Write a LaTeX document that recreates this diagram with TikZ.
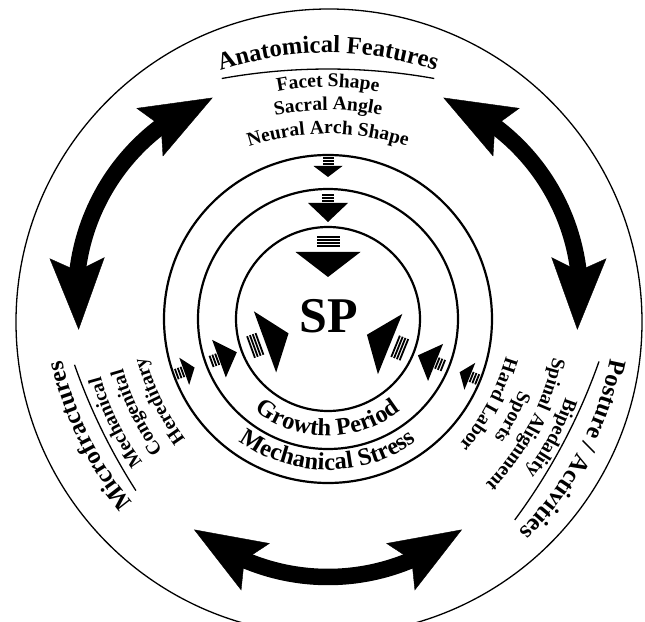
\documentclass[tikz,border=0pt]{standalone}
\usepackage{fontspec}
\setmainfont{Liberation Serif}
\usetikzlibrary{arrows.meta,bending,decorations.text}

\newcommand\itemfont{\bfseries\fontsize{19.5pt}{22pt}\selectfont}
\newcommand\titlefont{\bfseries\fontsize{24.6pt}{26pt}\selectfont}
\newcommand\ringfont{\bfseries\fontsize{24.5pt}{26pt}\selectfont}

% text on a flat arc: rotation, apex radius, arc radius, font, text
\newcommand\arclabel[5]{%
  \pgfmathsetmacro\myshift{#3-#2}%
  \begin{scope}[rotate=#1,shift={(0,-\myshift)}]
    \path[decorate,decoration={text along path,text align=center,text={|#4|#5}}]
      (150:#3pt) arc[start angle=150,end angle=30,radius=#3pt];
  \end{scope}}
% underline arc: rotation, apex radius, arc radius, half angle
\newcommand\arcline[4]{%
  \pgfmathsetmacro\myshift{#3-#2}%
  \begin{scope}[rotate=#1,shift={(0,-\myshift)}]
    \draw[uline] ({90+#4}:#3pt) arc[start angle={90+#4},end angle={90-#4},radius=#3pt];
  \end{scope}}
% text along the bottom of a ring: radius, font, text
\newcommand\botlabel[3]{%
  \path[decorate,decoration={text along path,text align=center,text={|#2|#3}}]
    (200:#1pt) arc[start angle=200,end angle=340,radius=#1pt];}
% striped arrow: angle, tip radius, height, width, bars, bar width, gap
\newcommand\stripearrow[7]{%
  \begin{scope}[rotate={#1-90}]
    \fill (0,#2) -- ({-#4/2},{#2+#3}) -- ({#4/2},{#2+#3}) -- cycle;
    \foreach \k in {1,...,#5}{\fill ({-#6/2},{#2+#3+#7+(\k-1)*3}) rectangle ++(#6,1.8);}
  \end{scope}}

\tikzset{
  bighead/.tip={Stealth[length=72pt,width=55pt,inset=13pt,line width=0.4pt,flex]},
  bigarrow/.style={line width=16.5pt,bighead-bighead},
  ring/.style={line width=2.2pt},
  outer/.style={line width=1.3pt},
  uline/.style={line width=1.3pt},
}

\begin{document}
\begin{tikzpicture}[x=1pt,y=1pt]
\useasboundingbox (-328,-302) rectangle (317,319);
\coordinate (c) at (0,0);
\draw[outer] (1,-3) circle[radius=313pt];
\draw[ring] (c) circle[radius=92pt];
\draw[ring] (c) circle[radius=130pt];
\draw[ring] (c) circle[radius=164pt];

% big curved double arrows
\foreach \ph/\nm in {150/nw,30/ne,270/bt}{
  \begin{scope}[shift={(\ph:45)}]
    \coordinate (\nm A) at ({\ph-39}:213);
    \draw[bigarrow] (\nm A) arc[start angle={\ph-39},end angle={\ph+39},radius=213pt];
  \end{scope}}

% striped arrows toward SP
\foreach \a in {90,200,338}{
  \stripearrow{\a}{42}{25}{65}{4}{23}{5}
  \stripearrow{\a}{97}{19}{40}{3}{12}{1}
  \stripearrow{\a}{142}{11}{29}{3}{11}{1}
}

\node[font=\bfseries\fontsize{50pt}{50pt}\selectfont] (sp) at (1,2.5) {SP};

% top group
\arclabel{0}{266}{330}{\titlefont}{Anatomical Features}
\arcline{0}{250}{600}{10.2}
\arclabel{0}{232}{255}{\itemfont}{Facet Shape}
\arclabel{0}{209}{255}{\itemfont}{Sacral Angle}
\arclabel{0}{185}{255}{\itemfont}{Neural Arch Shape}

% left group
\arclabel{116}{266}{330}{\titlefont}{Microfractures}
\arcline{116}{252}{600}{6.7}
\arclabel{116}{234}{255}{\itemfont}{Mechanical}
\arclabel{116}{210}{255}{\itemfont}{Congenital}
\arclabel{116}{185}{255}{\itemfont}{Hereditary}

% right group
\arclabel{-118}{283}{330}{\titlefont}{Posture / Activities}
\arcline{-118}{266}{600}{8.6}
\arclabel{-118}{250}{255}{\itemfont}{Bipedality}
\arclabel{-118}{227}{255}{\itemfont}{Spinal Alignment}
\arclabel{-118}{204}{255}{\itemfont}{Sports}
\arclabel{-118}{180}{255}{\itemfont}{Hard Labor}

% ring labels
\botlabel{117}{\ringfont}{Growth Period}
\botlabel{151}{\ringfont}{Mechanical Stress}
\end{tikzpicture}
\end{document}
